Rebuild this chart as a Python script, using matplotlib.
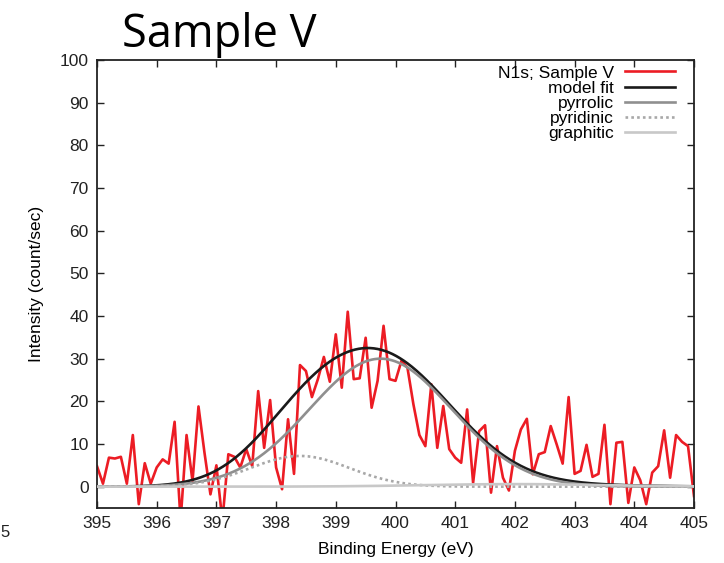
import numpy as np
import matplotlib
matplotlib.use("Agg")
import matplotlib.pyplot as plt

# ---- data ----
energy = np.round(np.linspace(395.0, 405.0, 101), 1)
intensity = [
    4.8, 0.7, 6.8, 6.6, 7.0, 0.7, 12.1, -4.1, 5.5, 0.7,      # 395.0-395.9
    4.5, 6.4, 5.4, 15.2, -8.0, 12.1, 1.3, 18.8, 8.0, -1.8,   # 396.0-396.9
    5.0, -8.0, 7.6, 7.0, 4.5, 8.8, 4.8, 22.4, 9.1, 20.3,     # 397.0-397.9
    4.5, -0.6, 15.8, 3.0, 28.5, 27.1, 21.0, 25.2, 30.4, 24.6,  # 398.0-398.9
    35.7, 23.2, 41.0, 25.2, 25.4, 34.9, 18.5, 24.8, 37.7, 25.2,  # 399.0-399.9
    24.8, 29.5, 27.9, 19.3, 12.1, 9.5, 24.0, 9.1, 18.9, 8.8,   # 400.0-400.9
    6.8, 5.6, 18.1, 0.9, 13.0, 14.4, -1.4, 9.5, 2.1, -0.9,     # 401.0-401.9
    8.4, 13.4, 15.9, 2.9, 7.6, 8.1, 14.2, 9.9, 5.4, 21.0,      # 402.0-402.9
    3.0, 3.7, 9.8, 2.3, 3.0, 14.5, -4.1, 10.3, 10.5, -3.8,     # 403.0-403.9
    4.5, 1.5, -4.1, 3.3, 4.8, 13.2, 2.1, 12.1, 10.5, 9.5,      # 404.0-404.9
    -2.2,                                                     # 405.0
]

# fitted Gaussian components: (centre eV, height, sigma eV)
pyrrolic_params = (399.75, 30.0, 1.19)
pyridinic_params = (398.40, 7.2, 0.83)
graphitic_params = (402.0, 0.6, 1.5)

x_ticks = [395, 396, 397, 398, 399, 400, 401, 402, 403, 404, 405]
y_ticks = [0, 10, 20, 30, 40, 50, 60, 70, 80, 90, 100]
labels = ["N1s; Sample V", "model fit", "pyrrolic", "pyridinic", "graphitic"]


def gauss(x, p):
    c, h, s = p
    return h * np.exp(-(x - c) ** 2 / (2 * s ** 2))


xf = np.linspace(395, 405, 801)
pyrrolic = gauss(xf, pyrrolic_params)
pyridinic = gauss(xf, pyridinic_params)
graphitic = gauss(xf, graphitic_params)
model = pyrrolic + pyridinic + graphitic

plt.rcParams["font.family"] = ["Liberation Sans", "DejaVu Sans"]

fig = plt.figure(figsize=(7.24, 5.63), dpi=100)
ax = fig.add_axes([97 / 724, 1 - 508 / 563, (694 - 97) / 724, (508 - 60) / 563])

ax.plot(energy, intensity, color="#ec1c24", lw=1.9, label=labels[0], zorder=2)
ax.plot(xf, model, color="#1a1a1a", lw=1.9, label=labels[1], zorder=3)
ax.plot(xf, pyrrolic, color="#8f8f8f", lw=1.9, label=labels[2], zorder=4)
ax.plot(xf, pyridinic, color="#a8a8a8", lw=1.9, ls=(0, (1.0, 1.2)), label=labels[3], zorder=5)
ax.plot(xf, graphitic, color="#c8c8c8", lw=1.9, label=labels[4], zorder=6)

ax.set_xlim(395, 405)
ax.set_ylim(-5, 100)
ax.set_xticks(x_ticks)
ax.set_yticks(y_ticks)
ax.tick_params(direction="in", length=5, width=1.0, top=True, right=True,
               labelsize=12.5, pad=6, colors="#222222", labelcolor="#222222")
for sp in ax.spines.values():
    sp.set_linewidth(1.3)
    sp.set_color("#222222")

ax.set_xlabel("Binding Energy (eV)", fontsize=12.5, labelpad=8)
ax.set_ylabel("Intensity (count/sec)", fontsize=12.5, labelpad=11)

leg = ax.legend(loc="upper right", bbox_to_anchor=(0.968, 0.988),
                frameon=False, markerfirst=False,
                fontsize=12.5, handlelength=2.9, handletextpad=0.6,
                labelspacing=0.0, borderaxespad=0.0, borderpad=0.0)

fig.text(122 / 724, 1 - 47 / 563, "Sample V", fontsize=32.5,
         family=["Open Sans", "DejaVu Sans"], ha="left", va="baseline")
fig.text(10 / 724, 1 - 537 / 563, "5", fontsize=12, ha="right", va="baseline",
         color="#222222")

fig.savefig("out.png", dpi=100)
